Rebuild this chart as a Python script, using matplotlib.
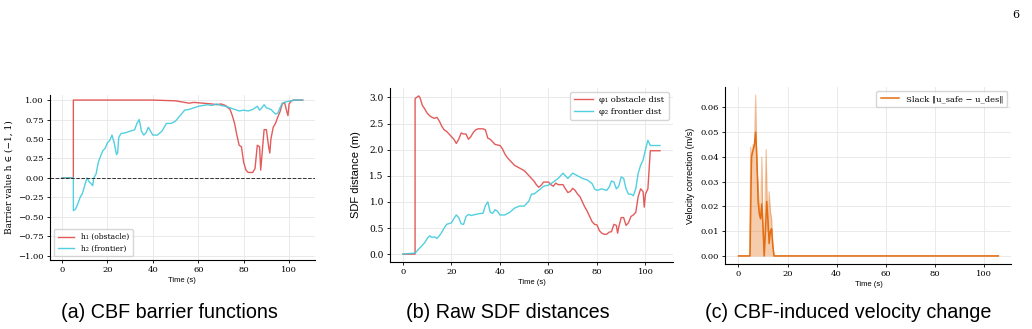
import numpy as np
import matplotlib.pyplot as plt

# ---- data ----
# (a) barrier values
t_h1 = [0, 5, 5.01, 40, 50, 52, 56, 58, 62, 66, 68, 70, 72, 74, 75, 76, 77, 78, 79, 80, 81, 82, 84,
        85, 86, 87, 87.5, 88.5, 89, 90, 91, 91.5, 92, 93, 94, 95, 96, 97, 98, 99, 99.5, 100, 101, 102, 106]
h1 = [0, 0, 1.0, 1.0, 0.99, 0.98, 0.96, 0.97, 0.96, 0.95, 0.94, 0.95, 0.93, 0.88, 0.8, 0.7, 0.55,
      0.42, 0.4, 0.2, 0.1, 0.07, 0.07, 0.12, 0.42, 0.4, 0.1, 0.45, 0.62, 0.62, 0.4, 0.32, 0.5, 0.65,
      0.7, 0.78, 0.85, 0.95, 0.97, 0.85, 0.8, 0.95, 0.99, 1.0, 1.0]
t_h2 = [0, 5, 5.01, 6, 7, 8, 9, 10, 11, 12, 13, 13.5, 14, 15, 16, 17, 18, 19, 20, 21, 22, 23, 24, 24.5,
        25, 26, 28, 30, 32, 33, 34, 35, 36, 37, 38, 40, 42, 44, 46, 48, 50, 52, 54, 56, 58, 60, 62, 64,
        66, 68, 70, 72, 74, 76, 78, 80, 82, 84, 85, 86, 87, 88, 89, 90, 92, 93, 94, 95, 96, 97, 99,
        101, 102, 106]
h2 = [0, 0, -0.42, -0.4, -0.33, -0.25, -0.2, -0.1, 0.0, -0.05, -0.08, -0.1, 0.0, 0.05, 0.2, 0.28,
      0.35, 0.38, 0.45, 0.48, 0.55, 0.45, 0.3, 0.32, 0.52, 0.57, 0.58, 0.6, 0.62, 0.7, 0.75, 0.6,
      0.55, 0.58, 0.65, 0.55, 0.55, 0.6, 0.7, 0.7, 0.73, 0.8, 0.87, 0.88, 0.9, 0.92, 0.93, 0.94,
      0.93, 0.95, 0.93, 0.92, 0.9, 0.88, 0.86, 0.87, 0.86, 0.88, 0.9, 0.92, 0.87, 0.9, 0.94, 0.9,
      0.88, 0.85, 0.82, 0.83, 0.9, 0.96, 0.98, 0.99, 1.0, 1.0]

# (b) raw SDF distances
t_p1 = [0, 5, 5.01, 6.5, 7, 8, 9, 10, 11, 12, 13, 14, 15, 16, 17, 18, 19, 20, 21, 22, 23, 24, 25, 26,
        27, 28, 29, 30, 31, 33, 34, 35, 36, 37, 38, 40, 41, 42, 43, 44, 45, 46, 48, 50, 51, 52, 53,
        54, 55, 56, 57, 58, 60, 61, 62, 63, 64, 66, 67, 68, 69, 70, 71, 72, 73, 74, 75, 76, 77, 78,
        79, 80, 81, 82, 83, 84, 85, 86, 87, 88, 88.5, 89, 90, 91, 92, 93, 94, 95, 96, 97, 98, 99,
        99.5, 100, 101, 102, 106]
phi1 = [0, 0, 2.98, 3.03, 3.0, 2.85, 2.78, 2.7, 2.65, 2.62, 2.6, 2.62, 2.55, 2.45, 2.38, 2.35, 2.3,
        2.25, 2.2, 2.12, 2.2, 2.32, 2.3, 2.3, 2.2, 2.25, 2.33, 2.38, 2.4, 2.4, 2.38, 2.22, 2.2, 2.15,
        2.1, 2.08, 2.02, 1.92, 1.85, 1.8, 1.75, 1.7, 1.65, 1.6, 1.55, 1.5, 1.45, 1.4, 1.33, 1.28,
        1.32, 1.38, 1.38, 1.33, 1.3, 1.36, 1.33, 1.33, 1.25, 1.18, 1.2, 1.26, 1.22, 1.15, 1.1, 1.0,
        0.9, 0.82, 0.72, 0.62, 0.57, 0.56, 0.45, 0.4, 0.38, 0.38, 0.42, 0.43, 0.57, 0.55, 0.4, 0.52,
        0.7, 0.7, 0.55, 0.6, 0.72, 0.75, 0.8, 1.1, 1.25, 1.2, 0.9, 1.15, 1.25, 1.98, 1.98]
t_p2 = [0, 5, 7, 9, 10, 11, 12, 13, 14, 15, 16, 17, 18, 20, 21, 22, 23, 24, 25, 26, 27, 28, 30, 32,
        33, 34, 35, 36, 37, 38, 39, 40, 42, 44, 46, 48, 50, 52, 53, 54, 56, 58, 60, 62, 64, 65, 66,
        67, 68, 69, 70, 72, 74, 76, 78, 79, 80, 82, 84, 85, 86, 87, 88, 89, 90, 91, 92, 93, 94, 95,
        96, 97, 98, 99, 100, 101, 102, 106]
phi2 = [0, 0.02, 0.12, 0.22, 0.3, 0.35, 0.32, 0.33, 0.3, 0.35, 0.42, 0.5, 0.57, 0.6, 0.68, 0.75,
        0.7, 0.58, 0.57, 0.72, 0.76, 0.74, 0.76, 0.78, 0.78, 0.93, 1.0, 0.8, 0.78, 0.85, 0.82, 0.75,
        0.75, 0.8, 0.88, 0.92, 0.92, 1.02, 1.15, 1.15, 1.22, 1.3, 1.32, 1.38, 1.45, 1.5, 1.55, 1.5,
        1.45, 1.5, 1.55, 1.5, 1.45, 1.42, 1.35, 1.25, 1.22, 1.25, 1.22, 1.28, 1.4, 1.38, 1.25, 1.3,
        1.48, 1.45, 1.25, 1.15, 1.15, 1.12, 1.25, 1.55, 1.7, 1.8, 2.0, 2.18, 2.08, 2.08]

# (c) velocity correction (raw + smoothed)
t_raw = [0, 4.5, 5, 5.5, 6, 6.5, 7, 7.3, 7.5, 8, 8.5, 9, 9.5, 10, 10.5, 11, 11.3, 11.6, 12, 12.5,
         13, 13.5, 14, 14.5, 106]
slack_raw = [0, 0, 0.044, 0.038, 0.045, 0.044, 0.065, 0.045, 0.035, 0.03, 0.02, 0.015, 0.04, 0.01,
             0.0, 0.03, 0.043, 0.026, 0.01, 0.026, 0.018, 0.015, 0.005, 0.0, 0.0]
t_sm = [0, 4.7, 5.3, 6, 6.5, 7, 7.5, 8, 8.5, 9, 9.5, 10, 10.5, 11, 11.5, 12, 12.5, 13, 13.5, 14,
        14.5, 106]
slack_sm = [0, 0, 0.04, 0.043, 0.045, 0.05, 0.04, 0.022, 0.017, 0.015, 0.021, 0.012, 0.0, 0.01,
            0.022, 0.015, 0.005, 0.01, 0.011, 0.004, 0.0, 0.0]

RED = '#e04a4a'
CYAN = '#3fcbdc'
ORANGE = '#e46d12'

serif = 'DejaVu Serif'
sans = 'Liberation Sans'

fig = plt.figure(figsize=(10.32, 3.29), dpi=100)
ax1 = fig.add_axes([0.0484, 0.2097, 0.2566, 0.5013])
ax2 = fig.add_axes([0.378, 0.2036, 0.274, 0.5289])
ax3 = fig.add_axes([0.703, 0.1976, 0.277, 0.538])

for ax in (ax1, ax2, ax3):
    ax.grid(True, color='#e6e6e6', lw=0.6)
    ax.set_axisbelow(True)
    for s in ('top', 'right'):
        ax.spines[s].set_visible(False)
    ax.spines['left'].set_linewidth(0.8)
    ax.spines['bottom'].set_linewidth(0.8)
    ax.tick_params(labelsize=6, length=2.5, width=0.6, pad=2)
    ax.set_xticks([0, 20, 40, 60, 80, 100])
    ax.set_xlabel('Time (s)', fontsize=5.5, family=sans, labelpad=2)
ax2.tick_params(axis='y', labelsize=6.5)

# (a)
ax1.plot(t_h1, h1, color=RED, lw=1.0, alpha=0.9, label='h\u2081 (obstacle)')
ax1.plot(t_h2, h2, color=CYAN, lw=1.0, alpha=0.9, label='h\u2082 (frontier)')
ax1.axhline(0, color='#333333', ls='--', lw=0.7)
ax1.set_ylim(-1.055, 1.064)
ax1.set_yticks(np.arange(-1.0, 1.01, 0.25))
ax1.set_ylabel('Barrier value h \u2208 (\u22121, 1)', fontsize=6.5, family=serif, labelpad=3)
ax1.legend(loc='lower left', prop={'family': serif, 'size': 5.5},
           handlelength=2.2, borderpad=0.5, labelspacing=0.4)

# (b)
ax2.plot(t_p1, phi1, color=RED, lw=1.0, alpha=0.9, label='\u03c6\u2081 obstacle dist')
ax2.plot(t_p2, phi2, color=CYAN, lw=1.0, alpha=0.9, label='\u03c6\u2082 frontier dist')
ax2.set_yticks(np.arange(0, 3.01, 0.5))
ax2.set_ylabel('SDF distance (m)', fontsize=8, family=sans, labelpad=6)
ax2.legend(loc='upper right', prop={'family': serif, 'size': 6},
           handlelength=2.2, borderpad=0.5, labelspacing=0.4)

# (c)
ax3.fill_between(t_raw, 0, slack_raw, color=ORANGE, alpha=0.35, lw=0)
ax3.plot(t_raw, slack_raw, color=ORANGE, alpha=0.4, lw=0.8)
ax3.plot(t_sm, slack_sm, color=ORANGE, lw=1.1, label='Slack \u2016u_safe \u2212 u_des\u2016')
ax3.set_yticks(np.arange(0, 0.061, 0.01))
ax3.set_ylabel('Velocity correction (m/s)', fontsize=6.5, family=sans, labelpad=4)
ax3.legend(loc='upper right', prop={'family': serif, 'size': 6},
           handlelength=2.2, borderpad=0.5)

for ax in (ax1, ax2, ax3):
    for lab in ax.get_xticklabels() + ax.get_yticklabels():
        lab.set_family(serif)

# captions and page number
cap_y = 0.033
fig.text(169 / 1032, cap_y, '(a) CBF barrier functions', ha='center', fontsize=14.2, family=sans)
fig.text(508 / 1032, cap_y, '(b) Raw SDF distances', ha='center', fontsize=14.2, family=sans)
fig.text(848 / 1032, cap_y, '(c) CBF-induced velocity change', ha='center', fontsize=14.2, family=sans)
fig.text(0.988, 0.955, '6', ha='right', va='center', fontsize=8, family=serif)

fig.savefig('out.png', dpi=100)
